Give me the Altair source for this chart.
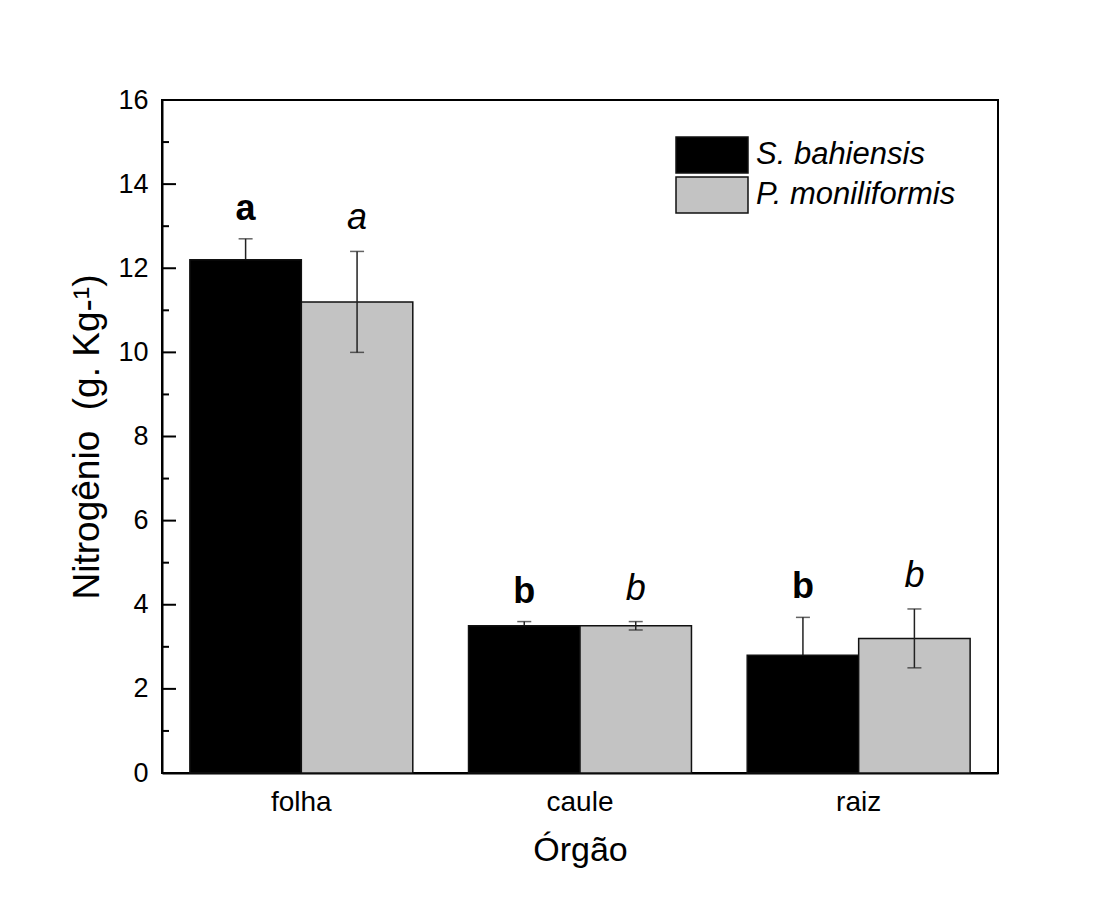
import altair as alt
import pandas as pd

orgaos = ["folha", "caule", "raiz"]
especies = ["S. bahiensis", "P. moniliformis"]
s_bahiensis = [12.2, 3.5, 2.8]
s_bahiensis_err = [0.5, 0.1, 0.9]
p_moniliformis = [11.2, 3.5, 3.2]
p_moniliformis_err = [1.2, 0.1, 0.7]
letras_s = ["a", "b", "b"]
letras_p = ["a", "b", "b"]
y_ticks = [0, 2, 4, 6, 8, 10, 12, 14, 16]
y_minor = [1, 3, 5, 7, 9, 11, 13, 15]

rows = []
for i, o in enumerate(orgaos):
    for esp, vals, errs, lets in [
        (especies[0], s_bahiensis, s_bahiensis_err, letras_s),
        (especies[1], p_moniliformis, p_moniliformis_err, letras_p),
    ]:
        rows.append({
            "orgao": o, "especie": esp, "valor": vals[i],
            "lower": vals[i] - errs[i], "upper": vals[i] + errs[i],
            "letra": lets[i],
        })
df = pd.DataFrame(rows)

major_df = pd.DataFrame({"v": y_ticks})
minor_df = pd.DataFrame({"v": y_minor})

FONT = "Liberation Sans"
YTITLE = "Nitrogênio\u00a0\u00a0(g. Kg-¹)"

x_enc = alt.X(
    "orgao:N", sort=orgaos,
    scale=alt.Scale(paddingInner=0.2, paddingOuter=0.1),
    axis=alt.Axis(title="Órgão", labelAngle=0, ticks=False, labelPadding=15,
                  titlePadding=17, labelFontSize=28, titleFontSize=34),
)
xo_enc = alt.XOffset("especie:N", sort=especies,
                     scale=alt.Scale(paddingInner=0, paddingOuter=0))
yscale = alt.Scale(domain=[0, 16], nice=False, zero=True)
yaxis = alt.Axis(title=YTITLE, values=y_ticks, tickSize=0, labelPadding=14,
                 titlePadding=11, labelFontSize=27, titleFontSize=37, grid=False)


def Y(field):
    return alt.Y(field, scale=yscale, axis=yaxis, title=YTITLE)


base = alt.Chart(df)
base_s = base.transform_filter(alt.datum.especie == especies[0])
base_p = base.transform_filter(alt.datum.especie == especies[1])

bars = base.mark_bar(stroke="#111111", strokeWidth=1.5).encode(
    x=x_enc, xOffset=xo_enc, y=Y("valor:Q"),
    color=alt.Color(
        "especie:N", sort=especies,
        scale=alt.Scale(domain=especies, range=["#000000", "#c3c3c3"]),
        legend=alt.Legend(
            title=None, orient="none", legendX=531, legendY=36,
            symbolType="M-2,-1H2V1H-2Z", symbolSize=1296,
            symbolStrokeColor="#111111", symbolStrokeWidth=1.5,
            symbolOpacity=1, labelLimit=500,
            labelFont=FONT, labelFontSize=31, labelFontStyle="italic",
            labelColor="black", labelOffset=25, rowPadding=-3,
        ),
    ),
)


def errbars(b):
    rule = b.mark_rule(color="#222222", strokeWidth=1.5).encode(
        x=x_enc, xOffset=xo_enc, y=Y("lower:Q"), y2="upper:Q"
    )
    top = b.mark_tick(color="#222222", size=14, thickness=1.5, orient="horizontal").encode(
        x=x_enc, xOffset=xo_enc, y=Y("upper:Q")
    )
    bot = b.mark_tick(color="#222222", size=14, thickness=1.5, orient="horizontal").encode(
        x=x_enc, xOffset=xo_enc, y=Y("lower:Q")
    )
    return [rule, top, bot]


txt_s = base_s.mark_text(
    font=FONT, fontSize=36, fontWeight="bold", baseline="alphabetic", dy=-19, color="black"
).encode(x=x_enc, xOffset=xo_enc, y=Y("upper:Q"), text="letra:N")

txt_p = base_p.mark_text(
    font=FONT, fontSize=36, fontStyle="italic", baseline="alphabetic", dy=-22, color="black"
).encode(x=x_enc, xOffset=xo_enc, y=Y("upper:Q"), text="letra:N")

ticks_major = alt.Chart(major_df).mark_rule(color="black", strokeWidth=2).encode(
    y=Y("v:Q"), x=alt.value(0), x2=alt.value(14)
)
ticks_minor = alt.Chart(minor_df).mark_rule(color="black", strokeWidth=2).encode(
    y=Y("v:Q"), x=alt.value(0), x2=alt.value(7)
)

layers = errbars(base_s) + [bars] + errbars(base_p) + [txt_s, txt_p, ticks_major, ticks_minor]

chart = alt.layer(*layers).properties(
    width=836, height=673,
    autosize=alt.AutoSizeParams(type="none"),
    padding={"left": 154, "top": 92, "right": 80, "bottom": 120},
    background="white",
).configure_view(
    stroke="black", strokeWidth=2
).configure_axis(
    labelFont=FONT, titleFont=FONT, labelColor="black", titleColor="black",
    domainColor="black", domainWidth=2, titleFontWeight="normal",
)

chart.save("out.html", embed_options={"renderer": "svg", "actions": False})
